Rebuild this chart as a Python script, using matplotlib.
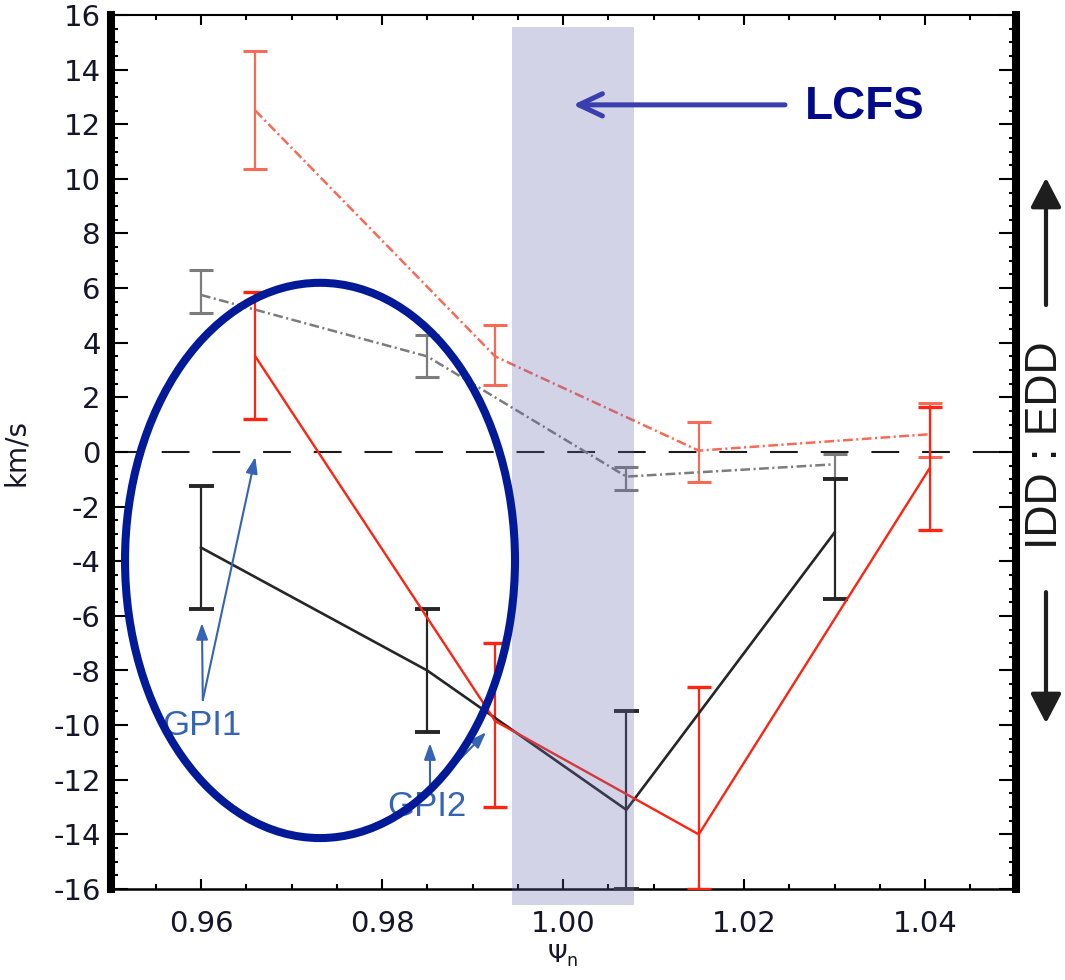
import numpy as np
import matplotlib.pyplot as plt
from matplotlib.patches import Ellipse, Rectangle
from matplotlib.ticker import MultipleLocator, FormatStrFormatter

plt.rcParams['lines.scale_dashes'] = False
plt.rcParams['font.family'] = 'DejaVu Sans'
plt.rcParams['axes.unicode_minus'] = False

# radial positions (normalised flux) of the two probe sets
psi_a = [0.960, 0.985, 1.007, 1.030]
psi_b = [0.966, 0.9925, 1.015, 1.0405]

# poloidal velocity, km/s, with lower / upper error limits
v_black = [-3.5, -8.0, -13.1, -2.95]
v_black_lo = [-5.75, -10.25, -16.0, -5.4]
v_black_hi = [-1.25, -5.75, -9.5, -1.0]

v_red = [3.5, -9.85, -14.0, -0.6]
v_red_lo = [1.2, -13.0, -16.0, -2.85]
v_red_hi = [5.85, -7.0, -8.6, 1.65]

v_salmon = [12.5, 3.5, 0.05, 0.65]
v_salmon_lo = [10.35, 2.45, -1.1, -0.2]
v_salmon_hi = [14.7, 4.65, 1.1, 1.8]

v_gray = [5.75, 3.5, -0.9, -0.45]
v_gray_lo = [5.1, 2.75, -1.4, -0.95]
v_gray_hi = [6.65, 4.3, -0.55, -0.08]

dashdot = (0, (7, 2.5, 1.5, 2.5))


def errs(v, lo, hi):
    v = np.array(v)
    return [v - np.array(lo), np.array(hi) - v]


fig = plt.figure(figsize=(10.65, 9.8), dpi=100)
ax = fig.add_axes([110.5 / 1065, 91 / 980, 905 / 1065, 874 / 980])

ax.axhline(0, color='#1a1a1a', lw=1.5, dashes=(20, 16.5), zorder=1)

ax.errorbar(psi_a, v_gray, yerr=errs(v_gray, v_gray_lo, v_gray_hi),
            color='#7c7c7c', lw=1.8, ls=dashdot, elinewidth=1.6,
            capsize=8.5, capthick=2.2, zorder=2)
ax.errorbar(psi_b, v_salmon, yerr=errs(v_salmon, v_salmon_lo, v_salmon_hi),
            color='#f86a58', lw=1.8, ls=dashdot, elinewidth=1.6,
            capsize=8.5, capthick=2.2, zorder=2)
ax.errorbar(psi_a, v_black, yerr=errs(v_black, v_black_lo, v_black_hi),
            color='#262626', lw=1.9, elinewidth=1.6,
            capsize=9, capthick=2.8, zorder=3)
ax.errorbar(psi_b, v_red, yerr=errs(v_red, v_red_lo, v_red_hi),
            color='#ff2410', lw=1.7, elinewidth=1.6,
            capsize=8.5, capthick=2.4, zorder=3)

# separatrix band
ax.add_patch(Rectangle((0.99436, -16.6), 0.01349, 32.17, facecolor='#6569ae',
                       alpha=0.29, lw=0, clip_on=False, zorder=5))

ax.set_xlim(0.95, 1.05)
ax.set_ylim(-16, 16)
ax.set_xticks([0.96, 0.98, 1.00, 1.02, 1.04])
ax.xaxis.set_minor_locator(MultipleLocator(0.005))
ax.xaxis.set_major_formatter(FormatStrFormatter('%.2f'))
ax.yaxis.set_major_locator(MultipleLocator(2))
ax.yaxis.set_minor_locator(MultipleLocator(0.5))

ax.tick_params(which='both', direction='in', top=True, right=True,
               colors='black', labelcolor='#16162a', labelsize=21)
ax.tick_params(axis='x', which='major', length=7, width=1.5, pad=15)
ax.tick_params(axis='x', which='minor', length=3.5, width=1.5)
ax.tick_params(axis='y', which='major', length=12, width=1.5, pad=7)
ax.tick_params(axis='y', which='minor', length=5, width=1.5)

ax.spines['left'].set_linewidth(5.8)
ax.spines['right'].set_linewidth(5.8)
ax.spines['top'].set_linewidth(1.5)
ax.spines['bottom'].set_linewidth(1.8)

ax.set_ylabel('km/s', fontsize=20, color='#16162a')
ax.yaxis.set_label_coords(-0.089, 0.5)
ax.set_xlabel(r'$\Psi_\mathrm{n}$', fontsize=18, color='#16162a')
ax.xaxis.set_label_coords(0.5, -0.062)

# circled GPI region
ax.add_patch(Ellipse((0.97315, -3.97), 0.04309, 20.33, fill=False,
                     edgecolor='#021a98', lw=5.8, clip_on=False, zorder=10))

gpi_col = '#3564b4'
gpi_arrow = dict(arrowstyle='-|>,head_length=0.7,head_width=0.25',
                 color=gpi_col, lw=1.5, mutation_scale=14,
                 shrinkA=0, shrinkB=0)
for tip in [(0.9601, -6.26), (0.9660, -0.18)]:
    ax.annotate('', xy=tip, xytext=(0.9602, -9.08), arrowprops=gpi_arrow,
                zorder=9)
for tip in [(0.9853, -10.66), (0.9915, -10.26)]:
    ax.annotate('', xy=tip, xytext=(0.9853, -12.38), arrowprops=gpi_arrow,
                zorder=9)
ax.text(0.9601, -10.0, 'GPI1', color=gpi_col, fontsize=25,
        family='Liberation Sans', ha='center', va='center', zorder=9)
ax.text(0.985, -12.97, 'GPI2', color=gpi_col, fontsize=25,
        family='Liberation Sans', ha='center', va='center', zorder=9)

# LCFS label
ax.annotate('', xy=(1.0011, 12.71), xytext=(1.02453, 12.71),
            arrowprops=dict(arrowstyle='->,head_length=0.85,head_width=0.4',
                            color='#3a3fb0', lw=3.6, mutation_scale=20,
                            shrinkA=0, shrinkB=0), zorder=9)
ax.text(1.02674, 12.64, 'LCFS', color='#020a8c', fontsize=33,
        fontweight='bold', family='Liberation Sans', ha='left', va='center',
        zorder=9)

# direction arrows on the right
side = ax.get_yaxis_transform()
side_arrow = dict(arrowstyle='-|>,head_length=0.9,head_width=0.47',
                  color='#1e1e1e', lw=3, mutation_scale=20,
                  shrinkA=0, shrinkB=0)
ax.annotate('', xy=(1.0337, 10.04), xytext=(1.0337, 5.38),
            xycoords=side, textcoords=side, arrowprops=side_arrow,
            annotation_clip=False)
ax.annotate('', xy=(1.0337, -9.93), xytext=(1.0337, -5.13),
            xycoords=side, textcoords=side, arrowprops=side_arrow,
            annotation_clip=False)
ax.text(1.0337, 0.26, 'IDD : EDD', transform=side, rotation=90,
        fontsize=32, family='Liberation Sans', color='#1a1a1a',
        ha='center', va='center')

fig.savefig('out.png', dpi=100)
